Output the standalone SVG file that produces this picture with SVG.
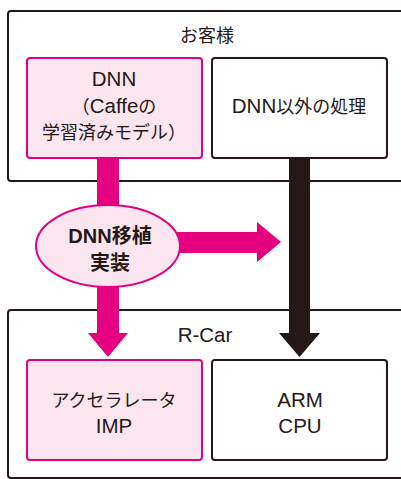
<svg xmlns="http://www.w3.org/2000/svg" width="401" height="479" viewBox="0 0 401 479">
<style>
.outer{fill:#fff;stroke:#231815;stroke-width:2}
.pbox{fill:#fbe6f0;stroke:#e4007f;stroke-width:2}
.wbox{fill:#fff;stroke:#231815;stroke-width:2}
.t{font-family:"Liberation Sans","Noto Sans CJK JP",sans-serif;font-size:18px;fill:#231815;text-anchor:middle}
.L{font-size:20.5px}
.b{font-weight:bold;font-size:20px}
.pink{fill:#e4007f}
.dark{fill:#231815}
</style>
<rect width="401" height="479" fill="#fff"/>
<g id="customer">
<rect class="outer" x="8" y="11" width="410" height="170" rx="3"/>
<text class="t" x="207" y="42">お客様</text>
</g>
<g id="rcar">
<rect class="outer" x="8" y="310" width="410" height="168" rx="3"/>
<text class="t L" x="205" y="342">R-Car</text>
</g>
<g id="connectors">
<path class="pink" d="M97,158 H119 V333 H128 L108,357 L88,333 H97 Z"/>
<path class="dark" d="M289,158 H310 V333 H320 L299.5,357 L279,333 H289 Z"/>
<path class="pink" d="M175,232 H257 V222 L281,242 L257,262 V253 H175 Z"/>
</g>
<g id="dnn">
<rect class="pbox" x="27" y="58" width="175" height="100" rx="3"/>
<text class="t L" x="114" y="86">DNN</text>
<text class="t" x="114" y="113">（<tspan class="L">Caffe</tspan>の</text>
<text class="t" x="114" y="139">学習済みモデル）</text>
</g>
<g id="other">
<rect class="wbox" x="212" y="58" width="175" height="100" rx="3"/>
<text class="t" x="299" y="113"><tspan class="L">DNN</tspan>以外の処理</text>
</g>
<g id="port">
<ellipse cx="108" cy="246" rx="72" ry="41" fill="#fbe6f0" stroke="#e4007f" stroke-width="2"/>
<text class="t b" x="110" y="243">DNN移植</text>
<text class="t b" x="110" y="270">実装</text>
</g>
<g id="imp">
<rect class="pbox" x="27" y="360" width="175" height="100" rx="3"/>
<text class="t" x="114" y="407">アクセラレータ</text>
<text class="t L" x="114" y="433">IMP</text>
</g>
<g id="arm">
<rect class="wbox" x="212" y="360" width="175" height="100" rx="3"/>
<text class="t L" x="300" y="407">ARM</text>
<text class="t L" x="300" y="433">CPU</text>
</g>
</svg>
